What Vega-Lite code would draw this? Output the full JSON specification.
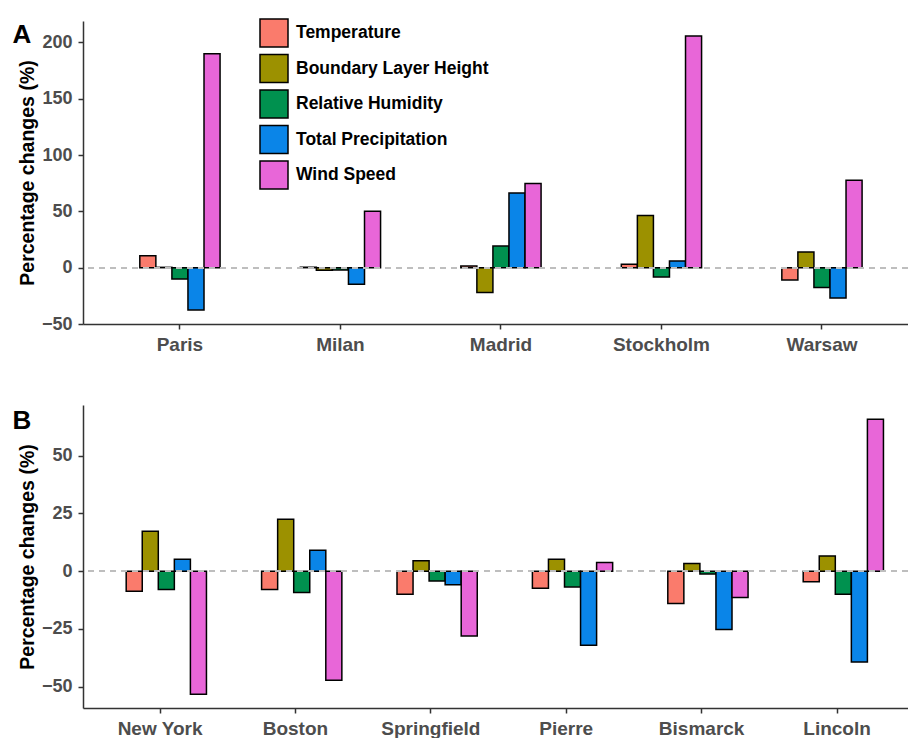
{
  "$schema": "https://vega.github.io/schema/vega-lite/v6.json",
  "padding": {"left": 12, "top": 18, "right": 0, "bottom": 0},
  "background": "white",
  "spacing": 51,
  "datasets": {
    "europe": [
      {"city": "Paris", "variable": "Temperature", "value": 10.6},
      {"city": "Paris", "variable": "Boundary Layer Height", "value": 0.3},
      {"city": "Paris", "variable": "Relative Humidity", "value": -10},
      {"city": "Paris", "variable": "Total Precipitation", "value": -37.5},
      {"city": "Paris", "variable": "Wind Speed", "value": 190},
      {"city": "Milan", "variable": "Temperature", "value": 0.4},
      {"city": "Milan", "variable": "Boundary Layer Height", "value": -2.3},
      {"city": "Milan", "variable": "Relative Humidity", "value": -2},
      {"city": "Milan", "variable": "Total Precipitation", "value": -14.7},
      {"city": "Milan", "variable": "Wind Speed", "value": 50},
      {"city": "Madrid", "variable": "Temperature", "value": 1.5},
      {"city": "Madrid", "variable": "Boundary Layer Height", "value": -22},
      {"city": "Madrid", "variable": "Relative Humidity", "value": 19.2},
      {"city": "Madrid", "variable": "Total Precipitation", "value": 66.4},
      {"city": "Madrid", "variable": "Wind Speed", "value": 74.7},
      {"city": "Stockholm", "variable": "Temperature", "value": 3},
      {"city": "Stockholm", "variable": "Boundary Layer Height", "value": 46.4},
      {"city": "Stockholm", "variable": "Relative Humidity", "value": -8.2},
      {"city": "Stockholm", "variable": "Total Precipitation", "value": 5.9},
      {"city": "Stockholm", "variable": "Wind Speed", "value": 205.6},
      {"city": "Warsaw", "variable": "Temperature", "value": -10.9},
      {"city": "Warsaw", "variable": "Boundary Layer Height", "value": 13.9},
      {"city": "Warsaw", "variable": "Relative Humidity", "value": -17.7},
      {"city": "Warsaw", "variable": "Total Precipitation", "value": -27},
      {"city": "Warsaw", "variable": "Wind Speed", "value": 77.6}
    ],
    "us": [
      {"city": "New York", "variable": "Temperature", "value": -8.7},
      {"city": "New York", "variable": "Boundary Layer Height", "value": 17.3},
      {"city": "New York", "variable": "Relative Humidity", "value": -7.9},
      {"city": "New York", "variable": "Total Precipitation", "value": 5.2},
      {"city": "New York", "variable": "Wind Speed", "value": -53.2},
      {"city": "Boston", "variable": "Temperature", "value": -7.9},
      {"city": "Boston", "variable": "Boundary Layer Height", "value": 22.5},
      {"city": "Boston", "variable": "Relative Humidity", "value": -9.2},
      {"city": "Boston", "variable": "Total Precipitation", "value": 9.1},
      {"city": "Boston", "variable": "Wind Speed", "value": -47.2},
      {"city": "Springfield", "variable": "Temperature", "value": -10},
      {"city": "Springfield", "variable": "Boundary Layer Height", "value": 4.5},
      {"city": "Springfield", "variable": "Relative Humidity", "value": -4.2},
      {"city": "Springfield", "variable": "Total Precipitation", "value": -5.9},
      {"city": "Springfield", "variable": "Wind Speed", "value": -28},
      {"city": "Pierre", "variable": "Temperature", "value": -7.4},
      {"city": "Pierre", "variable": "Boundary Layer Height", "value": 5.2},
      {"city": "Pierre", "variable": "Relative Humidity", "value": -6.8},
      {"city": "Pierre", "variable": "Total Precipitation", "value": -32},
      {"city": "Pierre", "variable": "Wind Speed", "value": 3.8},
      {"city": "Bismarck", "variable": "Temperature", "value": -14},
      {"city": "Bismarck", "variable": "Boundary Layer Height", "value": 3.3},
      {"city": "Bismarck", "variable": "Relative Humidity", "value": -1.2},
      {"city": "Bismarck", "variable": "Total Precipitation", "value": -25.2},
      {"city": "Bismarck", "variable": "Wind Speed", "value": -11.4},
      {"city": "Lincoln", "variable": "Temperature", "value": -4.6},
      {"city": "Lincoln", "variable": "Boundary Layer Height", "value": 6.6},
      {"city": "Lincoln", "variable": "Relative Humidity", "value": -10},
      {"city": "Lincoln", "variable": "Total Precipitation", "value": -39.3},
      {"city": "Lincoln", "variable": "Wind Speed", "value": 65.7}
    ]
  },
  "resolve": {"scale": {"color": "independent", "x": "independent", "y": "independent"}, "legend": {"color": "independent"}},
  "config": {
    "view": {"stroke": null},
    "font": "Liberation Sans",
    "axis": {
      "grid": false,
      "domainColor": "#333333",
      "domainWidth": 1.5,
      "tickColor": "#333333",
      "tickWidth": 1.5,
      "tickSize": 5,
      "labelFont": "Liberation Sans",
      "labelFontWeight": "bold",
      "labelColor": "#4D4D4D",
      "titleFont": "Liberation Sans",
      "titleFontWeight": "bold",
      "titleColor": "#000000"
    },
    "title": {"font": "Liberation Sans", "fontWeight": "bold", "fontSize": 26, "color": "#000000"}
  },
  "vconcat": [
    {
      "width": 825,
      "height": 303,
      "title": {"text": "A", "anchor": "start", "frame": "bounds", "dx": -5, "dy": 30, "offset": 0},
      "data": {"name": "europe"},
      "layer": [
        {
          "mark": {"type": "bar", "stroke": "#000000", "strokeWidth": 1.5},
          "encoding": {
            "x": {
              "field": "city", "type": "nominal",
              "sort": ["Paris", "Milan", "Madrid", "Stockholm", "Warsaw"],
              "scale": {"paddingInner": 0.5, "paddingOuter": 0.32, "align": 0.553},
              "axis": {"title": null, "labelAngle": 0, "labelFontSize": 19, "labelPadding": 6}
            },
            "xOffset": {
              "field": "variable", "type": "nominal",
              "sort": ["Temperature", "Boundary Layer Height", "Relative Humidity", "Total Precipitation", "Wind Speed"],
              "scale": {"paddingInner": 0, "paddingOuter": 0}
            },
            "y": {
              "field": "value", "type": "quantitative",
              "scale": {"domain": [-50, 219], "nice": false, "zero": false},
              "axis": {"title": "Percentage changes (%)", "values": [-50, 0, 50, 100, 150, 200], "labelFontSize": 18, "labelPadding": 6, "titleFontSize": 19.5, "titlePadding": 4}
            },
            "color": {
              "field": "variable", "type": "nominal",
              "scale": {
                "domain": ["Temperature", "Boundary Layer Height", "Relative Humidity", "Total Precipitation", "Wind Speed"],
                "range": ["#FA7B6C", "#9C9100", "#00914F", "#0A85E8", "#E866D8"]
              },
              "legend": {
                "title": null, "orient": "none", "legendX": 176, "legendY": -3,
                "symbolType": "square", "symbolSize": 784, "symbolStrokeColor": "#000000", "symbolStrokeWidth": 1.5,
                "symbolOpacity": 1, "labelFontSize": 17.5, "labelFontWeight": "bold", "labelFont": "Liberation Sans",
                "labelColor": "#000000", "labelOffset": 7, "rowPadding": 1.5, "padding": 0, "labelLimit": 400
              }
            }
          }
        },
        {
          "mark": {"type": "rule", "color": "#BEBEBE", "strokeWidth": 1.5, "strokeDash": [6, 5]},
          "encoding": {"y": {"datum": 0, "type": "quantitative"}}
        }
      ]
    },
    {
      "width": 825,
      "height": 303,
      "title": {"text": "B", "anchor": "start", "frame": "bounds", "dx": -5, "dy": 29, "offset": 0},
      "data": {"name": "us"},
      "layer": [
        {
          "mark": {"type": "bar", "stroke": "#000000", "strokeWidth": 1.5},
          "encoding": {
            "x": {
              "field": "city", "type": "nominal",
              "sort": ["New York", "Boston", "Springfield", "Pierre", "Bismarck", "Lincoln"],
              "scale": {"paddingInner": 0.5, "paddingOuter": 0.2965, "align": 0.538},
              "axis": {"title": null, "labelAngle": 0, "labelFontSize": 19, "labelPadding": 6}
            },
            "xOffset": {
              "field": "variable", "type": "nominal",
              "sort": ["Temperature", "Boundary Layer Height", "Relative Humidity", "Total Precipitation", "Wind Speed"],
              "scale": {"paddingInner": 0, "paddingOuter": 0}
            },
            "y": {
              "field": "value", "type": "quantitative",
              "scale": {"domain": [-59.2, 71.9], "nice": false, "zero": false},
              "axis": {"title": "Percentage changes (%)", "values": [-50, -25, 0, 25, 50], "labelFontSize": 18, "labelPadding": 6, "titleFontSize": 19.5, "titlePadding": 4}
            },
            "color": {
              "field": "variable", "type": "nominal",
              "scale": {
                "domain": ["Temperature", "Boundary Layer Height", "Relative Humidity", "Total Precipitation", "Wind Speed"],
                "range": ["#FA7B6C", "#9C9100", "#00914F", "#0A85E8", "#E866D8"]
              },
              "legend": null
            }
          }
        },
        {
          "mark": {"type": "rule", "color": "#BEBEBE", "strokeWidth": 1.5, "strokeDash": [6, 5]},
          "encoding": {"y": {"datum": 0, "type": "quantitative"}}
        }
      ]
    }
  ]
}
